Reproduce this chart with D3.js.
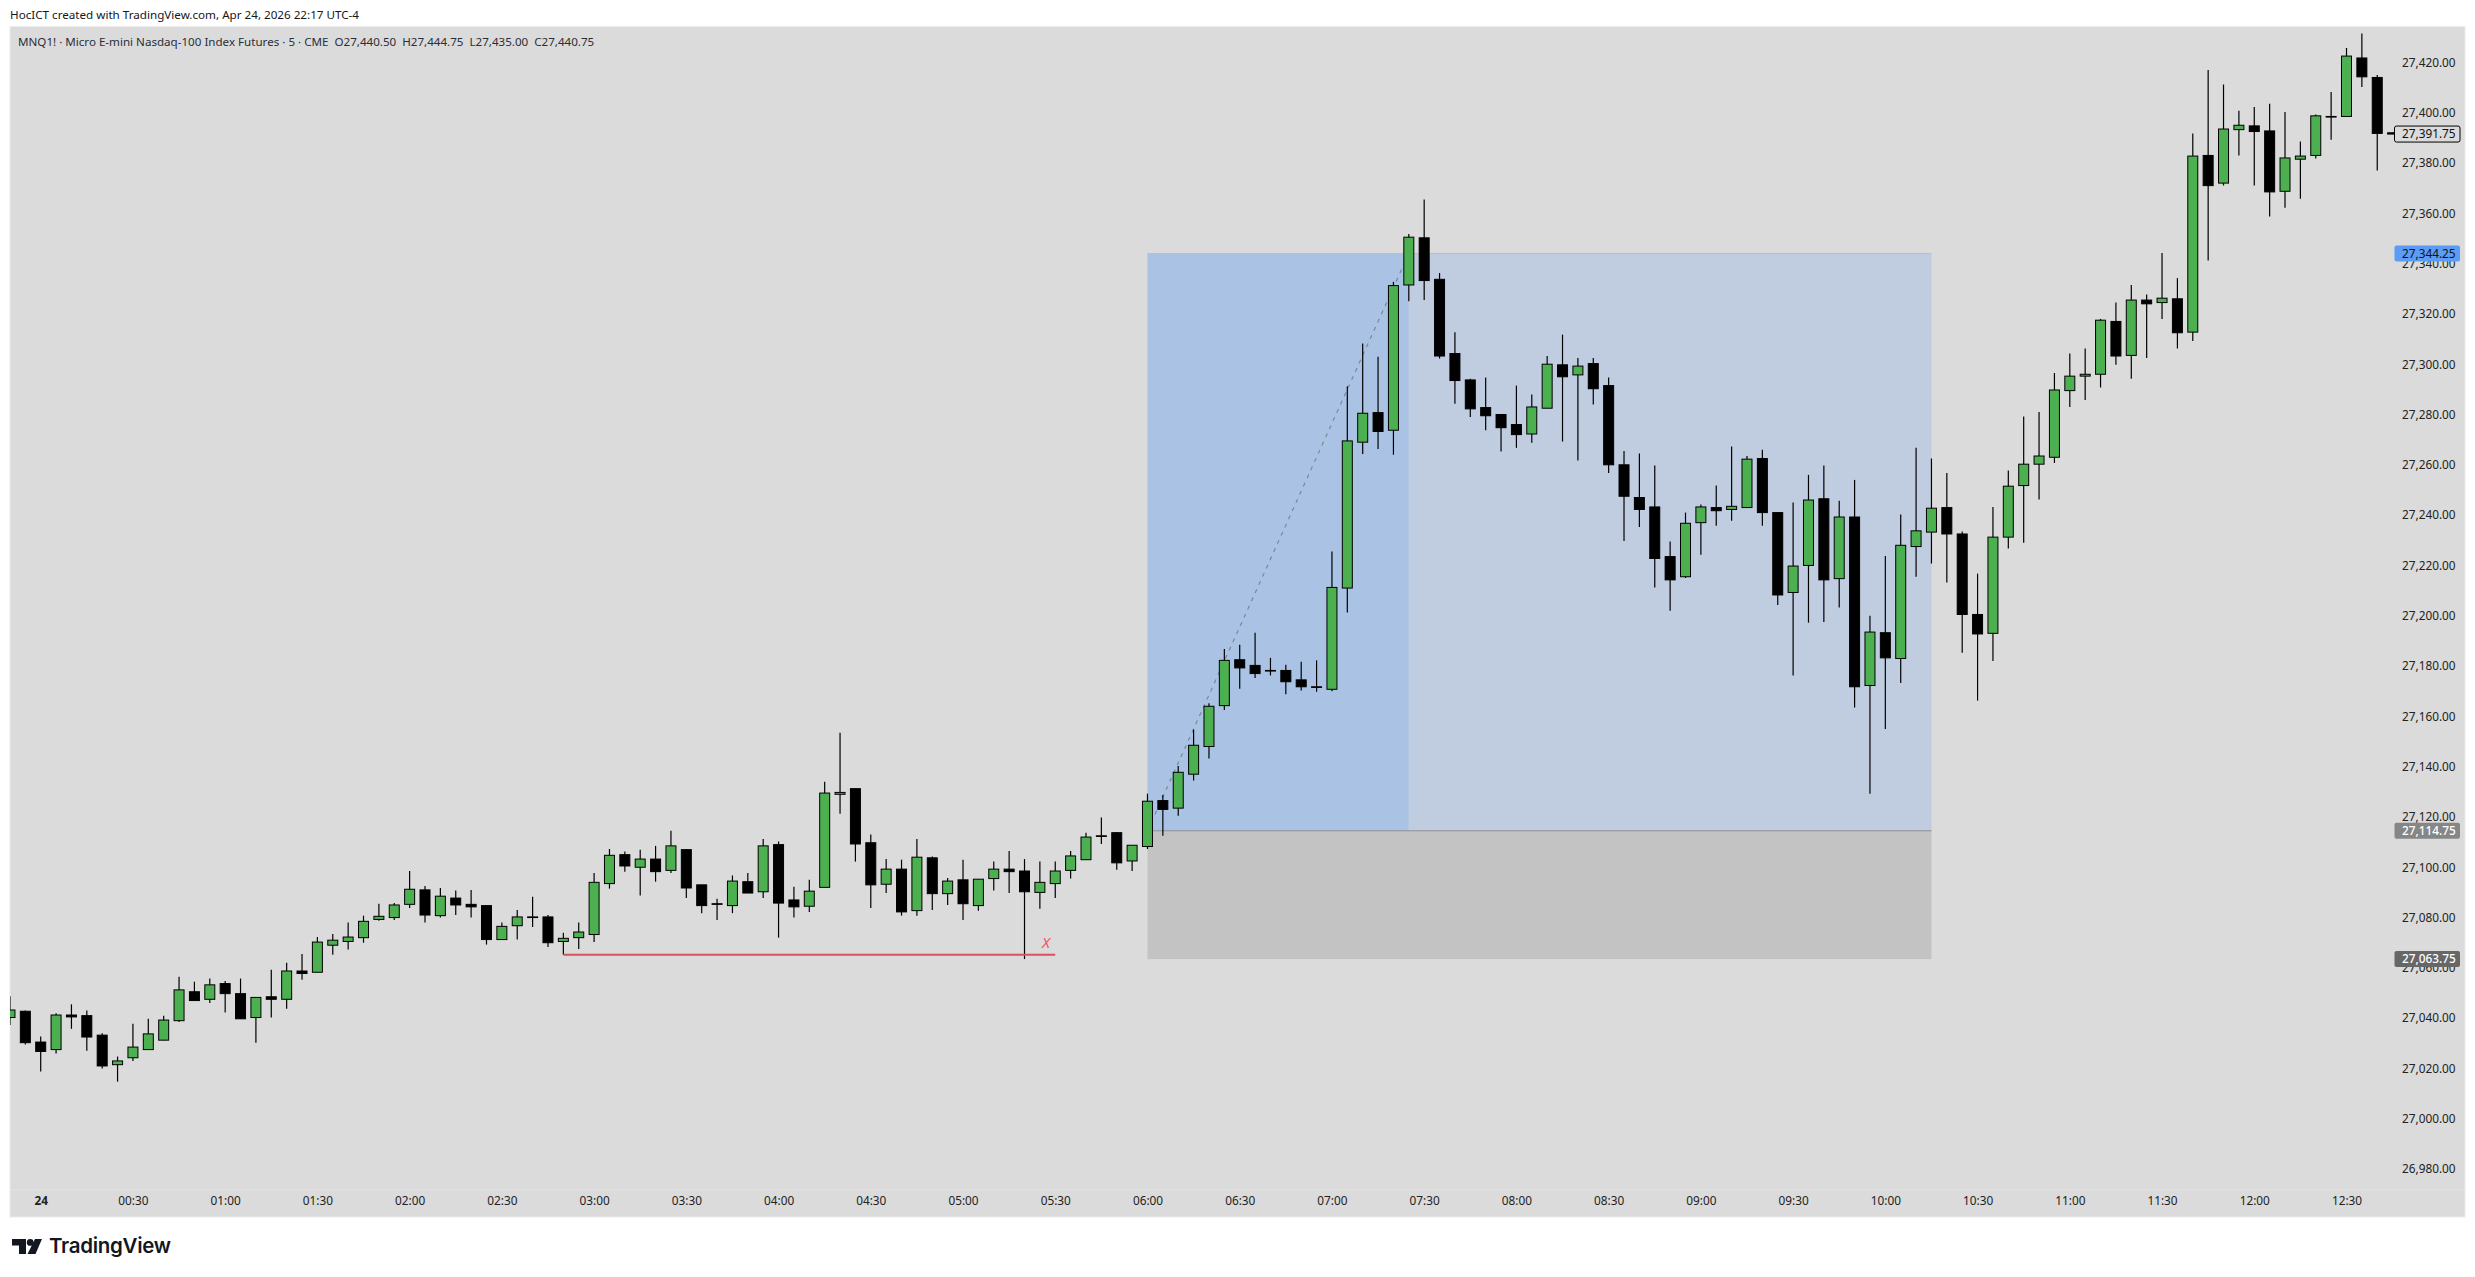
<!DOCTYPE html>
<html>
<head>
<meta charset="utf-8">
<script src="https://cdn.jsdelivr.net/npm/d3@7/dist/d3.min.js"></script>
<style>
html,body{margin:0;padding:0;background:#fff;overflow:hidden}
svg{display:block}
text{font-family:"Noto Sans",sans-serif}
</style>
</head>
<body>
<script>
const opens=[27040.5,27043,27030.75,27027.75,27041.5,27041.25,27033.5,27021.75,27024.5,27027.75,
27031.5,27039.25,27050.75,27047.75,27054,27050,27040.5,27048.75,27047.75,27059,
27058.5,27069.25,27070.75,27072.25,27079.5,27080.25,27085.5,27091.25,27081,27088,
27085.5,27085,27071.5,27077,27080.5,27080.5,27070.75,27072.25,27073.5,27093.75,
27105.25,27100.25,27103.5,27099,27107.25,27093.25,27085.75,27085,27094.5,27090.5,
27109.25,27087.25,27084.75,27092.25,27129.25,27131.5,27110,27093.5,27099.5,27083,
27104,27089.75,27095.25,27085,27095.75,27099.5,27098.75,27090.25,27093.75,27099,
27103.25,27112.75,27114,27102.75,27108.5,27126.75,27123.75,27137.25,27148.25,27164.5,
27182.75,27180.5,27178.5,27178.5,27174.75,27172,27171,27211.25,27269.25,27281,
27274,27331.75,27350.5,27334,27304.5,27294,27283,27280.25,27276.25,27272.5,
27282.75,27300,27296,27300.5,27291.75,27260.25,27247.25,27243.5,27223.75,27215.75,
27237.25,27243.25,27242.5,27243.25,27262.75,27241.25,27209.5,27220.25,27246.75,27215,
27239.5,27172.5,27193.5,27183.25,27227.75,27233.5,27243.25,27232.75,27200.75,27193.25,
27231.5,27252,27260.5,27263.25,27289.75,27295.5,27296.25,27317.25,27303.75,27325.75,
27324.75,27326.25,27313,27383.25,27372.25,27393.5,27395,27393,27369,27381.75,
27383.25,27398.75,27398.75,27422,27414.25,27392.25];
const highs=[27049,27043.25,27033,27042.25,27045.75,27043.25,27034.25,27025,27038,27040,
27041.25,27056.75,27054.75,27056,27055,27056,27048.5,27059.5,27062.25,27065.75,
27072.5,27073.75,27078.25,27081,27085.75,27086,27098.75,27092.75,27092,27091,
27091.25,27085,27078.25,27083.25,27088.5,27081.25,27074.25,27078.25,27098,27107.5,
27106.5,27107.25,27108.75,27114.75,27107.5,27093.25,27087.75,27097,27098,27111.5,
27110.5,27092.5,27095.25,27134.25,27153.75,27131.5,27113.25,27103.5,27103.25,27111.5,
27104.5,27096,27103.25,27095.5,27102.5,27106.75,27103.5,27102.5,27102.5,27106.75,
27114,27120,27114.25,27109,27129.5,27129,27140.5,27155,27165.5,27187,
27188.75,27193.5,27183.5,27180.75,27182,27182.5,27225.75,27291.5,27308.5,27303.25,
27333,27352,27365.75,27336.5,27313,27294.5,27295,27280.25,27291.75,27288.25,
27303.5,27312,27302.75,27302.75,27295,27265.75,27264.75,27260,27229.75,27241.25,
27244.5,27252,27267.5,27263.75,27266.25,27241.25,27245.25,27256.25,27260,27246,
27254.25,27200.25,27224,27240.5,27267,27262.75,27257,27233.75,27217,27243.5,
27258,27279.5,27281.25,27296.75,27304.5,27306.5,27318.25,27324.75,27331.75,27328,
27344.5,27334.5,27392,27417.25,27411.5,27401,27402.5,27403.75,27400.5,27388.75,
27399.5,27408.5,27426,27431.75,27415.25,27392.25];
const lows=[27037.5,27029.75,27019,27026.25,27036,27027.25,27020.25,27015,27023.25,27027.75,
27031.5,27038.75,27047.25,27046.25,27042.5,27040,27030.5,27040.5,27044,27055.5,
27058.5,27065.5,27067.5,27070.25,27079,27079.25,27084,27078.25,27080.25,27081.25,
27080.25,27069.5,27071.5,27071.5,27076.5,27068.5,27065.5,27067.75,27070.5,27091.75,
27098.5,27089,27094.5,27098,27088,27082,27079.25,27082,27090,27088,
27072.25,27080.25,27082.5,27092.25,27121.5,27102.5,27084,27090,27081,27081,
27083.25,27085.25,27079.25,27083,27091,27090,27063.75,27083.75,27088,27095.75,
27103.25,27109.5,27099.25,27098.75,27107.5,27112.75,27120.75,27134.75,27143.5,27162.75,
27171.25,27175.5,27176.5,27169,27170.5,27170,27170.25,27201.5,27264.5,27266.5,
27264.25,27325.25,27325.75,27302.5,27284.5,27279.25,27274,27265.5,27267,27269,
27282.75,27269.5,27262,27284.25,27257,27230,27235.5,27211.5,27202.25,27215.25,
27224.5,27236,27238,27243.25,27236,27204.5,27176.5,27197.5,27197.75,27203.5,
27163.75,27129.5,27155.25,27173.5,27215.75,27221,27213.5,27185.5,27166.5,27182.25,
27227,27229.25,27246.5,27261,27283.25,27286,27291,27300,27294.5,27302.75,
27318.25,27306.5,27309.5,27341.5,27371.25,27383.25,27371.25,27359,27362.5,27366,
27382,27389.5,27398.75,27410.5,27377.25,27391.75];
const closes=[27043.5,27030.5,27027,27041.5,27040.75,27032.75,27021.25,27023.25,27028.75,27034,
27039.5,27051.5,27047.25,27053.5,27050,27040,27048.5,27047.75,27059,27058,
27070.5,27071.25,27072.5,27078.75,27080.75,27085.25,27091.5,27081.25,27088.75,27085.25,
27084.5,27071.5,27076.75,27080.5,27080.25,27070.25,27072,27074.5,27094.25,27105,
27100.75,27103.5,27098.5,27108.75,27092,27085,27085.5,27094.75,27090,27108.75,
27086,27084.5,27090.75,27129.75,27130,27109.5,27093.25,27099.5,27082.5,27104.25,
27089.75,27094.75,27085.75,27095.5,27099.5,27098.5,27090.5,27094.25,27098.75,27104.75,
27112.25,27112.5,27102,27109,27126.5,27123.25,27138,27148.75,27164.25,27182.5,
27179.5,27177.25,27178.25,27174,27172,27171.75,27211.5,27269.75,27280.75,27273.5,
27331.5,27350.75,27333.5,27303.5,27293.75,27282.5,27279.75,27275,27272.25,27283.25,
27300.25,27295.25,27299.5,27290.5,27260.25,27247.75,27242.5,27223,27214.5,27237,
27243.5,27242,27243.75,27262.5,27241.25,27208.5,27220,27246.25,27214.5,27239.5,
27172,27193.75,27183.5,27228.25,27234,27243,27232.75,27200.75,27193,27231.5,
27251.75,27260.5,27263.75,27290,27295.5,27296.25,27317.75,27303.5,27325.75,27324.25,
27326.5,27312.75,27383,27371.25,27393.75,27395.25,27392.75,27368.75,27382.25,27383,
27399,27398.5,27422.75,27414.5,27392,27391.75];
const priceTicks=[26980,27000,27020,27040,27060,27080,27100,27120,27140,27160,27180,27200,27220,27240,27260,27280,27300,27320,27340,27360,27380,27400,27420];
const timeTickBars=[2,8,14,20,26,32,38,44,50,56,62,68,74,80,86,92,98,104,110,116,122,128,134,140,146,152];
const timeTickLabels=["24","00:30","01:00","01:30","02:00","02:30","03:00","03:30","04:00","04:30","05:00","05:30","06:00","06:30","07:00","07:30","08:00","08:30","09:00","09:30","10:00","10:30","11:00","11:30","12:00","12:30"];
const positionEntry=27114.75, positionTarget=27344.25, positionStop=27063.75;
const positionBars=[74,91,125];
const sweepLevel=27065.5, sweepBars=[36,68], sweepMarkBar=67.4;
const lastPrice=27391.75;
const headerLine="HocICT created with TradingView.com, Apr 24, 2026 22:17 UTC-4";
const symbolLine="MNQ1! · Micro E-mini Nasdaq-100 Index Futures · 5 · CME  O27,440.50  H27,444.75  L27,435.00  C27,440.75";

const W=2475,H=1277;
const pane={l:10,t:26.5,r:2465,b:1217,axisX:2394,axisY:1190};
const x=d3.scaleLinear().domain([2,152]).range([40.7,2346.5]);
const y=d3.scaleLinear().domain([27000,27420]).range([1119.4,63]);
const fmt=d3.format(",.2f");

const svg=d3.select("body").append("svg").attr("width",W).attr("height",H);
svg.append("rect").attr("width",W).attr("height",H).attr("fill","#fff");
svg.append("rect").attr("x",pane.l).attr("y",pane.t).attr("width",pane.r-pane.l).attr("height",pane.b-pane.t)
   .attr("fill","#dbdbdb").attr("stroke","#ebebeb").attr("stroke-width",1);
svg.append("line").attr("x1",pane.l).attr("x2",pane.r).attr("y1",pane.axisY).attr("y2",pane.axisY).attr("stroke","#e4e4e4");

const defs=svg.append("defs");
defs.append("clipPath").attr("id","plot").append("rect")
   .attr("x",pane.l).attr("y",pane.t).attr("width",pane.axisX-pane.l).attr("height",pane.axisY-pane.t);
const plot=svg.append("g").attr("clip-path","url(#plot)");

// position tool
plot.append("rect").attr("x",x(positionBars[0])).attr("y",y(positionTarget))
   .attr("width",x(positionBars[1])-x(positionBars[0])).attr("height",y(positionEntry)-y(positionTarget)).attr("fill","#aac3e4");
plot.append("rect").attr("x",x(positionBars[1])).attr("y",y(positionTarget))
   .attr("width",x(positionBars[2])-x(positionBars[1])).attr("height",y(positionEntry)-y(positionTarget)).attr("fill","#c0cde1");
plot.append("rect").attr("x",x(positionBars[0])).attr("y",y(positionEntry))
   .attr("width",x(positionBars[2])-x(positionBars[0])).attr("height",y(positionStop)-y(positionEntry)).attr("fill","#c3c3c3");
plot.append("line").attr("x1",x(positionBars[0])).attr("x2",x(positionBars[2])).attr("y1",y(positionEntry)).attr("y2",y(positionEntry))
   .attr("stroke","#8d8f92").attr("stroke-width",1);
plot.append("line").attr("x1",x(positionBars[0])).attr("x2",x(positionBars[2])).attr("y1",y(positionTarget)).attr("y2",y(positionTarget))
   .attr("stroke","#a9c0e0").attr("stroke-width",1);
plot.append("line").attr("x1",x(positionBars[0])).attr("x2",x(positionBars[1])).attr("y1",y(positionEntry)).attr("y2",y(positionTarget))
   .attr("stroke","#7a8896").attr("stroke-width",1.2).attr("stroke-dasharray","4 5");

// candles
const bars=d3.range(opens.length).map(i=>({i,o:opens[i],h:highs[i],l:lows[i],c:closes[i]}));
const bw=10;
const cg=plot.append("g").selectAll("g").data(bars).join("g");
cg.append("line").attr("x1",d=>x(d.i)).attr("x2",d=>x(d.i)).attr("y1",d=>y(d.h)).attr("y2",d=>y(d.l))
  .attr("stroke","#000").attr("stroke-width",1.2);
cg.append("rect").attr("x",d=>x(d.i)-bw/2).attr("width",bw)
  .attr("y",d=>y(Math.max(d.o,d.c)))
  .attr("height",d=>Math.max(y(Math.min(d.o,d.c))-y(Math.max(d.o,d.c)),0.6))
  .attr("fill",d=>d.c>=d.o?"#4caf50":"#000")
  .attr("stroke","#000").attr("stroke-width",1);

// sweep line
plot.append("line").attr("x1",x(sweepBars[0])).attr("x2",x(sweepBars[1])).attr("y1",y(sweepLevel)).attr("y2",y(sweepLevel))
   .attr("stroke","#d9505f").attr("stroke-width",2);
plot.append("text").attr("x",x(sweepMarkBar)).attr("y",y(sweepLevel)-7).attr("text-anchor","middle")
   .attr("font-size",15).attr("font-style","italic").attr("fill","#f0566b").text("X");

// axes
const yAxis=d3.axisRight(y).tickValues(priceTicks).tickFormat(fmt).tickSize(0).tickPadding(0);
const gy=svg.append("g").attr("transform",`translate(${2402},0)`).call(yAxis);
gy.select(".domain").remove();
gy.selectAll("text").attr("font-size",11.8).attr("fill","#222").attr("dy","0.27em").style("font-family",'"Noto Sans",sans-serif');

const xAxis=d3.axisBottom(x).tickValues(timeTickBars).tickFormat((d,k)=>timeTickLabels[k]).tickSize(0).tickPadding(0);
const gx=svg.append("g").attr("transform",`translate(0,${1197})`).call(xAxis);
gx.select(".domain").remove();
gx.selectAll("text").attr("font-size",11.8).attr("fill","#222").style("font-family",'"Noto Sans",sans-serif')
  .attr("font-weight",(d,k)=>k===0?700:400);

// price labels
const tags=[{p:lastPrice,fill:"#dbdbdb",stroke:"#000",txt:"#111"},
            {p:positionTarget,fill:"#5b9cf6",stroke:"none",txt:"#111"},
            {p:positionEntry,fill:"#868686",stroke:"none",txt:"#fff"},
            {p:positionStop,fill:"#676767",stroke:"none",txt:"#fff"}];
const tg=svg.append("g").selectAll("g").data(tags).join("g");
tg.append("rect").attr("x",2394.5).attr("y",d=>y(d.p)-8).attr("width",65.5).attr("height",16).attr("rx",2)
  .attr("fill",d=>d.fill).attr("stroke",d=>d.stroke);
tg.append("text").attr("x",2402).attr("y",d=>y(d.p)).attr("dy","0.36em").attr("font-size",11.8)
  .attr("fill",d=>d.txt).attr("font-weight",d=>d.txt==="#fff"?500:400).text(d=>fmt(d.p));

// header
svg.append("text").attr("x",10).attr("y",19).attr("font-size",11.65).attr("fill","#131722").text(headerLine);
svg.append("text").attr("x",18).attr("y",46).attr("font-size",11.6).attr("fill","#2a2e39").attr("xml:space","preserve").style("white-space","pre").text(symbolLine);

// logo
const logo=svg.append("g").attr("transform","translate(12,1239)").attr("fill","#131722");
logo.append("path").attr("d","M0 0H14V15H7V6.5H0Z");
logo.append("circle").attr("cx",18.2).attr("cy",3.4).attr("r",3.4);
logo.append("path").attr("d","M23 0H30L23.5 15H15.5Z");
svg.append("text").attr("x",49).attr("y",1253).attr("font-size",20.5).attr("font-weight",600).attr("fill","#131722")
  .style("font-family","Inter,sans-serif").attr("letter-spacing","-0.3").text("TradingView");
</script>
</body>
</html>
